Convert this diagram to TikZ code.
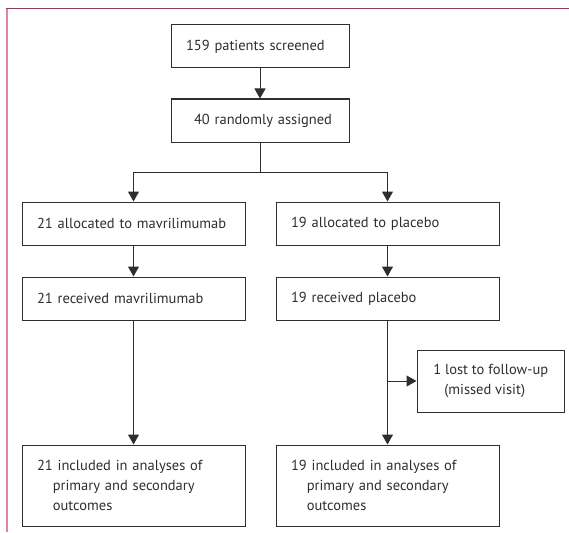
\documentclass[tikz,border=0pt]{standalone}
\usepackage{fontspec}
\setmainfont{PT Sans}
\usetikzlibrary{positioning,arrows.meta}
\definecolor{lineGray}{HTML}{2E2E2E}
\definecolor{frameRed}{HTML}{C4254A}
\definecolor{framePink}{HTML}{DC86A0}

\begin{document}
\begin{tikzpicture}[%
    x=1pt, y=-1pt,
    box/.style={%
        draw=lineGray,
        line width=1pt,
        text=lineGray,
        font=\fontsize{14.5}{20}\selectfont,
        execute at begin node={\hyphenpenalty=10000\exhyphenpenalty=10000},
        align=left,
        inner xsep=15pt,
        inner ysep=0pt,
        minimum height=43pt
    },
    smallBox/.style={%
        box,
        text width=148pt
    },
    armBox/.style={%
        box,
        text width=193pt
    },
    lostBox/.style={%
        box,
        inner xsep=0pt,
        minimum width=147.5pt,
        minimum height=62pt
    },
    endBox/.style={%
        box,
        text width=193pt,
        minimum height=81pt
    },
    arr/.style={%
        draw=lineGray,
        line width=1pt,
        -{Triangle[width=11pt,length=10pt]}
    }
]
\useasboundingbox (0,0) rectangle (569,532);

% Frame
\draw[framePink, line width=2pt] (6.5,9) -- (6.5,532);
\draw[frameRed, line width=1pt] (5.5,9) -- (569,9);

% Screening
\node[smallBox] (screened) at (260,46.5) {159 patients screened};
\node[smallBox, below=30pt of screened] (assigned) {\hspace*{8pt}40 randomly assigned};

% Mavrilimumab arm
\node[armBox] (allocMav) at (133.5,223.5) {21 allocated to mavrilimumab};
\node[armBox, below=31pt of allocMav] (recMav) {21 received mavrilimumab};
\node[endBox, below=124pt of recMav] (inclMav) {21 included in analyses of\\
    \phantom{21}primary and secondary\\
    \phantom{21}outcomes};

% Placebo arm
\node[armBox, right=30pt of allocMav] (allocPla) {19 allocated to placebo};
\node[armBox, below=31pt of allocPla] (recPla) {19 received placebo};
\node[endBox, below=124pt of recPla] (inclPla) {19 included in analyses of\\
    \phantom{21}primary and secondary\\
    \phantom{21}outcomes};

% Lost to follow-up
\node[lostBox, anchor=west] (lost) at (416.5,381) {1 lost to follow-up\\
    \hspace*{11pt}(missed visit)};

% Arrows
\draw[arr] (screened) -- (assigned);
\draw[arr] (assigned.south) -- ++(0,30) -| (allocMav.north);
\draw[arr] (assigned.south) -- ++(0,30) -| (allocPla.north);

\draw[arr] (allocMav) -- (recMav);
\draw[arr] (recMav) -- (inclMav);

\draw[arr] (allocPla) -- (recPla);
\draw[arr] (recPla) -- (inclPla);
\draw[arr] (recPla.south |- lost.west) -- (lost.west);

\end{tikzpicture}
\end{document}
